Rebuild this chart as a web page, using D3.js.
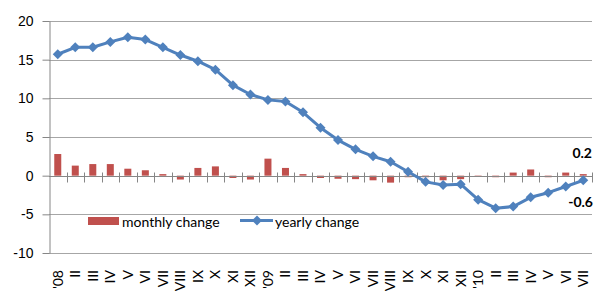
<!DOCTYPE html>
<html>
<head>
<meta charset="utf-8">
<script src="https://cdn.jsdelivr.net/npm/d3@7"></script>
<style>
  body { margin: 0; background: #fff; }
  svg { display: block; font-family: Lato, 'Liberation Sans', sans-serif; }
  .axis text { font-size: 14px; fill: #000; }
  .legend text { font-size: 14px; fill: #000; }
  .value-label { font-size: 14px; font-weight: bold; fill: #000; }
</style>
</head>
<body>
<div id="chart-area"><svg></svg></div>
<script>
const months = ["'08","II","III","IV","V","VI","VII","VIII","IX","X","XI","XII",
  "'09","II","III","IV","V","VI","VII","VIII","IX","X","XI","XII",
  "'10","II","III","IV","V","VI","VII"];
const monthlyChange = [2.8,1.3,1.5,1.5,0.9,0.7,0.2,-0.5,1.0,1.2,-0.3,-0.5,
  2.2,1.0,0.2,-0.3,-0.4,-0.45,-0.6,-0.9,-0.2,-0.2,-0.6,-0.45,
  -0.1,-0.2,0.4,0.8,-0.2,0.4,0.2];
const yearlyChange = [15.7,16.6,16.6,17.3,17.9,17.6,16.6,15.6,14.8,13.7,11.7,10.5,
  9.8,9.6,8.2,6.2,4.6,3.4,2.5,1.8,0.5,-0.8,-1.2,-1.1,
  -3.1,-4.2,-4.0,-2.8,-2.2,-1.4,-0.6];
const yTicks = [-10,-5,0,5,10,15,20];
const seriesNames = ['monthly change','yearly change'];

const chartSize = { width: 595, height: 291 };
const plot = { left: 49, right: 592, top: 21, bottom: 253 };
const colors = { bar: '#C0504D', line: '#4F81BD', grid: '#a6a6a6', axis: '#868686' };

const diamond = r => `M0,${-r}L${r},0L0,${r}L${-r},0Z`;

const drawChart = () => {
  const svg = d3.select('#chart-area svg')
    .attr('width', chartSize.width)
    .attr('height', chartSize.height);

  const x = d3.scaleBand()
    .domain(d3.range(months.length))
    .range([plot.left, plot.right])
    .padding(0);

  const y = d3.scaleLinear()
    .domain([-10, 20])
    .range([plot.bottom, plot.top]);

  const cx = i => x(i) + x.bandwidth() / 2;

  // horizontal gridlines (not at zero, the category axis sits there)
  svg.append('g')
    .selectAll('line')
    .data(yTicks.filter(t => t !== 0))
    .join('line')
    .attr('x1', plot.left).attr('x2', plot.right)
    .attr('y1', d => Math.round(y(d)) + 0.5).attr('y2', d => Math.round(y(d)) + 0.5)
    .attr('stroke', colors.grid);

  // y axis
  const yAxis = d3.axisLeft(y)
    .tickValues(yTicks)
    .tickFormat(d => String(d))
    .tickSize(7)
    .tickPadding(9)
    .tickSizeOuter(0);
  const gy = svg.append('g')
    .attr('class', 'y axis')
    .attr('transform', `translate(${plot.left + 0.5},0)`)
    .call(yAxis);
  gy.selectAll('line, path').attr('stroke', colors.axis);

  // bars
  const barW = x.bandwidth() * 0.4;
  svg.append('g')
    .selectAll('rect')
    .data(monthlyChange)
    .join('rect')
    .attr('x', (d, i) => cx(i) - barW / 2)
    .attr('width', barW)
    .attr('y', d => y(Math.max(0, d)))
    .attr('height', d => Math.abs(y(d) - y(0)))
    .attr('fill', colors.bar);

  // category axis at zero with cross ticks
  const y0 = Math.round(y(0)) + 0.5;
  const gx = svg.append('g').attr('class', 'x axis');
  gx.append('line')
    .attr('x1', plot.left).attr('x2', plot.right)
    .attr('y1', y0).attr('y2', y0)
    .attr('stroke', colors.axis);
  gx.selectAll('line.tick')
    .data(d3.range(1, months.length + 1))
    .join('line')
    .attr('class', 'tick')
    .attr('x1', k => Math.round(plot.left + k * x.step()) + 0.5)
    .attr('x2', k => Math.round(plot.left + k * x.step()) + 0.5)
    .attr('y1', y0 - 4).attr('y2', y0 + 6)
    .attr('stroke', colors.axis);
  gx.selectAll('text')
    .data(months)
    .join('text')
    .attr('transform', (d, i) => `translate(${cx(i)},270) rotate(-90)`)
    .attr('dy', '0.35em')
    .attr('text-anchor', 'end')
    .text(d => d);

  // yearly line
  const line = d3.line()
    .x((d, i) => cx(i))
    .y(d => y(d));
  svg.append('path')
    .datum(yearlyChange)
    .attr('d', line)
    .attr('fill', 'none')
    .attr('stroke', colors.line)
    .attr('stroke-width', 3)
    .attr('stroke-linejoin', 'round');
  svg.append('g')
    .selectAll('path')
    .data(yearlyChange)
    .join('path')
    .attr('d', diamond(5))
    .attr('transform', (d, i) => `translate(${cx(i)},${y(d)})`)
    .attr('fill', colors.line);

  // last value labels
  const last = months.length - 1;
  svg.append('text')
    .attr('class', 'value-label')
    .attr('x', plot.right)
    .attr('y', y(monthlyChange[last]) - 16)
    .attr('text-anchor', 'end')
    .text(monthlyChange[last]);
  svg.append('text')
    .attr('class', 'value-label')
    .attr('x', plot.right + 1)
    .attr('y', y(yearlyChange[last]) + 27)
    .attr('text-anchor', 'end')
    .text(yearlyChange[last]);

  // legend
  const legend = svg.append('g').attr('class', 'legend');
  legend.append('rect')
    .attr('x', 88).attr('y', 217)
    .attr('width', 31).attr('height', 8)
    .attr('fill', colors.bar);
  legend.append('text')
    .attr('x', 122).attr('y', 226.5)
    .text(seriesNames[0]);
  legend.append('line')
    .attr('x1', 240).attr('x2', 273)
    .attr('y1', 220.5).attr('y2', 220.5)
    .attr('stroke', colors.line)
    .attr('stroke-width', 3);
  legend.append('path')
    .attr('d', diamond(5))
    .attr('transform', 'translate(257,220.5)')
    .attr('fill', colors.line);
  legend.append('text')
    .attr('x', 275).attr('y', 226.5)
    .text(seriesNames[1]);
};

window.onload = drawChart;
</script>
</body>
</html>
